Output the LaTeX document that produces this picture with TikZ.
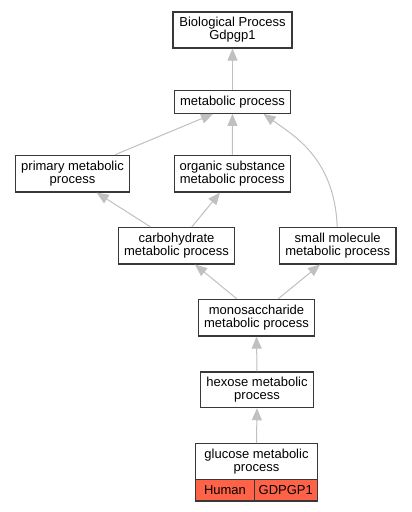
\documentclass[tikz,border=0pt]{standalone}
\usepackage{fontspec}
\setmainfont{Liberation Sans}
\usetikzlibrary{arrows.meta}
\definecolor{edgegray}{HTML}{C0C0C0}
\definecolor{boxline}{HTML}{383838}
\definecolor{tomatored}{HTML}{FF6347}
\begin{document}
\begin{tikzpicture}[x=1bp,y=-1bp,
  term/.style={draw=boxline, line width=1.2bp, fill=white, rectangle, inner sep=0pt,
    align=center, font=\fontsize{13bp}{13bp}\selectfont},
  cell/.style={term, fill=tomatored},
  isa/.style={draw=edgegray, line width=1bp,
    -{Triangle[length=12bp,width=10bp,fill=edgegray]}}
]
\useasboundingbox (0,0) rectangle (411,512);
\fill[white] (0,0) rectangle (411,512);

\node[term, minimum width=119bp, minimum height=36bp] (bio) at (232.5,30) {Biological Process\\Gdpgp1};
\node[term, minimum width=116bp, minimum height=23bp] (met) at (232.5,101.8) {metabolic process};
\node[term, minimum width=113.6bp, minimum height=36.7bp] (prim) at (72.5,173.7) {primary metabolic\\process};
\node[term, minimum width=116bp, minimum height=36.7bp] (org) at (232.3,173.7) {organic substance\\metabolic process};
\node[term, minimum width=116.4bp, minimum height=36.3bp] (carb) at (176.5,245.8) {carbohydrate\\metabolic process};
\node[term, minimum width=116.7bp, minimum height=36.3bp] (small) at (337.7,245.8) {small molecule\\metabolic process};
\node[term, minimum width=116.4bp, minimum height=36.7bp] (mono) at (256.5,317.7) {monosaccharide\\metabolic process};
\node[term, minimum width=112.6bp, minimum height=35.7bp] (hex) at (257,389.8) {hexose metabolic\\process};
\node[term, minimum width=121.6bp, minimum height=35.6bp] (glu) at (256.5,461.5) {glucose metabolic\\process};
\node[cell, minimum width=58.6bp, minimum height=21.7bp] (human) at (225,490.2) {Human};
\node[cell, minimum width=63bp, minimum height=21.7bp] (gene) at (285.8,490.2) {GDPGP1};

\draw[isa] (met.north) -- (bio.south);
\draw[isa] ([xshift=42.5bp]prim.north) -- ([xshift=-19.5bp]met.south);
\draw[isa] (org.north) -- (met.south);
\draw[isa] ([xshift=-0.5bp]small.north) .. controls ([xshift=-3bp,yshift=68bp]small.north) and ([xshift=62bp,yshift=-22bp]met.south) .. ([xshift=31bp]met.south);
\draw[isa] ([xshift=-25.8bp]carb.north) -- ([xshift=24.2bp]prim.south);
\draw[isa] ([xshift=15.2bp]carb.north) -- ([xshift=-12.3bp]org.south);
\draw[isa] ([xshift=-19.8bp]mono.north) -- ([xshift=18.5bp]carb.south);
\draw[isa] ([xshift=21.8bp]mono.north) -- ([xshift=-17.7bp]small.south);
\draw[isa] (hex.north) -- (mono.south);
\draw[isa] (glu.north) -- (hex.south);
\end{tikzpicture}
\end{document}
